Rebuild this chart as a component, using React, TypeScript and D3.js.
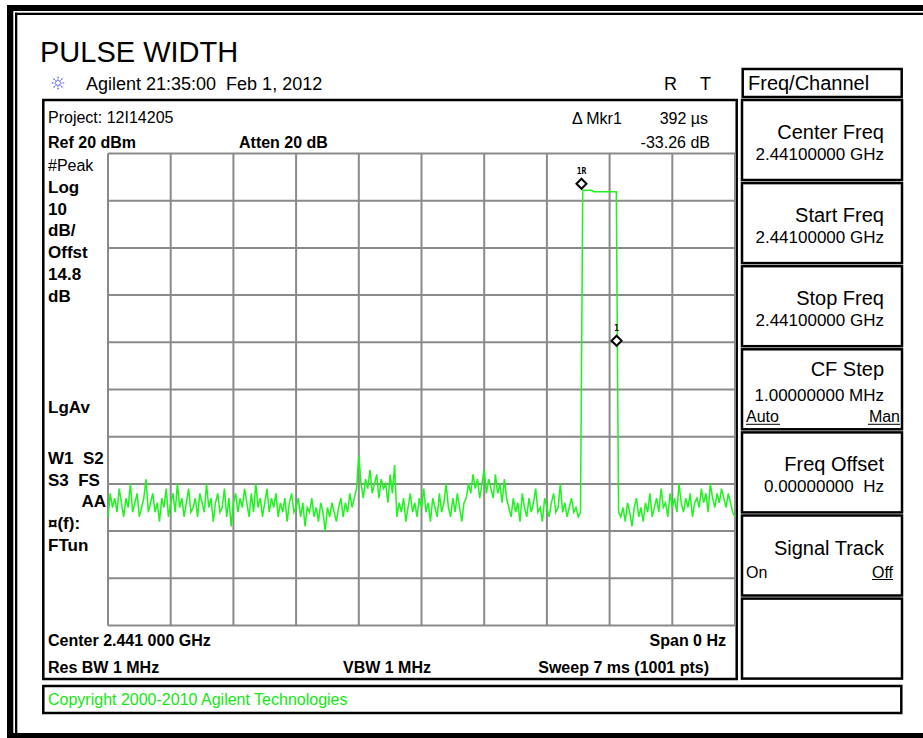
import React from 'react'
import * as d3 from 'd3'

// instrument settings
const sweepMs = 7
const refLevel = 20
const dbPerDiv = 10
const divisions = 10

// zero-span trace, dBm (left to right)
const noiseStart = [
  -57, -52, -55, -53, -56, -51, -54, -57, -53, -55, -50, -56, -54, -52, -57, -55, -53, -49, -56, -54,
  -52, -56, -54, -58, -53, -55, -51, -57, -54, -52, -56, -50, -55, -53, -57, -54, -51, -56, -55, -53,
  -57, -52, -54, -56, -50, -55, -53, -58, -54, -52, -56, -55, -51, -57, -53, -59, -54, -52, -56, -53,
  -55, -51, -54, -57, -52, -56, -50, -55, -53, -57, -54, -51, -56, -53, -55, -52, -57, -54, -56, -53,
  -58, -54, -52, -56, -55, -53, -57, -54, -59, -55, -56, -53, -57, -55, -58, -54, -56, -60, -55, -57,
  -54, -56, -58, -55, -53, -57, -54, -56, -52, -55, -53, -51
]
const spurA = [-44, -50, -53, -49, -51, -47, -52, -50, -48, -53, -49, -51, -50, -54, -48, -52, -46]
const noiseMid = [
  -57, -54, -56, -53, -58, -55, -52, -56, -54, -57, -53, -55, -51, -56, -54, -58,
  -53, -55, -57, -52, -56, -54, -50, -55, -57, -53, -56, -52, -55, -58, -54, -53
]
const spurB = [-50, -52, -48, -51, -49, -53, -50, -47, -52, -49, -51, -53, -48, -52, -50, -54, -49, -53]
const noiseLate = [
  -55, -57, -53, -56, -54, -58, -52, -55, -57, -53, -56, -54, -51, -56, -55, -58, -53,
  -55, -57, -54, -52, -56, -55, -50, -56, -54, -57, -55, -53, -56, -55, -57, -56
]
const pulseTop = [12.2, 12.2, 12.2, 12.2, 12.2, 11.9, 11.9, 11.9, 11.9, 11.9, 11.9, 11.9, 11.9, 11.9, 11.9, 11.9]
const noiseAfter = [
  -56, -57, -55, -58, -54, -56, -59, -55, -53, -57, -55, -58, -54, -56, -52, -57, -55, -53, -56, -51,
  -55, -54, -57, -52, -55, -53, -56, -50, -54, -56, -53, -55, -52, -57, -54, -53, -55, -51, -54, -52,
  -56, -50, -53, -55, -52, -54, -51, -53, -55, -52, -54, -56, -57
]

// markers: time in ms, level in dBm
const refMarker = { t: 5.286, level: 12.1, label: '1R' }
const deltaMarker = { t: 5.678, level: 12.1 - 33.26, label: '1' }

const leftLabelsTop = ['Log', '10', 'dB/', 'Offst', '14.8', 'dB']
const leftLabelsLow = ['W1  S2', 'S3  FS']
const leftLabelsTail = ['\u00a4(f):', 'FTun']

const softkeys = [
  { title: 'Center Freq', value: '2.44100000 GHz' },
  { title: 'Start Freq', value: '2.44100000 GHz' },
  { title: 'Stop Freq', value: '2.44100000 GHz' },
  { title: 'CF Step', value: '1.00000000 MHz', left: 'Auto', right: 'Man', under: 'both' },
  { title: 'Freq Offset', value: '0.00000000  Hz' },
  { title: 'Signal Track', left: 'On', right: 'Off', under: 'right' },
  { title: '' }
]

const FONT = '"Liberation Sans", Arial, sans-serif'

const App = () => {
  const gx0 = 108
  const gx1 = 735
  const gy0 = 153.5
  const gy1 = 625.5
  const lineGap = 21.7

  const trace = [...noiseStart, ...spurA, ...noiseMid, ...spurB, ...noiseLate, ...pulseTop, ...noiseAfter]
  const step = sweepMs / (trace.length - 1)

  const x = d3.scaleLinear().domain([0, sweepMs]).range([gx0, gx1])
  const y = d3.scaleLinear().domain([refLevel - dbPerDiv * divisions, refLevel]).range([gy1, gy0])

  const line = d3.line<number>()
    .x((d, i) => x(i * step))
    .y(d => y(d))

  const vLines = d3.range(divisions + 1).map(i => x((sweepMs / divisions) * i))
  const hLines = d3.range(divisions + 1).map(i => y(refLevel - dbPerDiv * i))

  const diamond = (cx: number, cy: number) => {
    const r = 5
    return `M${cx},${cy - r}L${cx + r},${cy}L${cx},${cy + r}L${cx - r},${cy}Z`
  }

  const logoRays = d3.range(8).map(i => (i * Math.PI) / 4)

  const keyTop = (i: number) => 100 + i * 83.1
  const keyX = 742
  const keyW = 160
  const keyH = 80

  return (
    <svg width={923} height={738} style={{ position: 'absolute', left: 0, top: 0, background: '#fff' }}
      fontFamily={FONT}>
      <rect x={0} y={0} width={923} height={738} fill="#fff" />

      {/* outer frame */}
      <rect x={7} y={5} width={930} height={6} fill="#000" />
      <rect x={7} y={5} width={6.3} height={733} fill="#000" />
      <rect x={7} y={733} width={930} height={6} fill="#000" />
      <rect x={15} y={12.7} width={920} height={2.3} fill="#000" />
      <rect x={15} y={12.7} width={2.3} height={722} fill="#000" />

      <text x={40} y={62} fontSize={29} fill="#000">PULSE WIDTH</text>

      {/* agilent logo */}
      <g transform="translate(58,83)" stroke="#2b3cff" strokeWidth={1.2}>
        {logoRays.map((a, i) => (
          <line key={i} x1={Math.cos(a) * 2} y1={Math.sin(a) * 2} x2={Math.cos(a) * 7.5} y2={Math.sin(a) * 7.5}
            strokeDasharray="1.5,1.2" />
        ))}
      </g>
      <text x={86} y={90} fontSize={18} style={{ whiteSpace: 'pre' }}>Agilent 21:35:00  Feb 1, 2012</text>
      <text x={664} y={90} fontSize={18}>R</text>
      <text x={700} y={90} fontSize={18}>T</text>

      <rect x={742.7} y={69} width={159} height={28} fill="none" stroke="#000" strokeWidth={2.5} />
      <text x={748} y={90} fontSize={20}>Freq/Channel</text>

      {/* main display */}
      <rect x={43.3} y={100} width={693.4} height={579} fill="none" stroke="#000" strokeWidth={2.5} />
      <text x={48} y={123} fontSize={16}>Project: 12I14205</text>
      <text x={48} y={148} fontSize={16} fontWeight="bold">Ref 20 dBm</text>
      <text x={239} y={148} fontSize={16} fontWeight="bold">Atten 20 dB</text>
      <text x={572} y={124} fontSize={16}>{'\u0394 Mkr1'}</text>
      <text x={708} y={124} fontSize={16} textAnchor="end">392 µs</text>
      <text x={710} y={148} fontSize={16} textAnchor="end">-33.26 dB</text>

      <text x={48} y={171} fontSize={16}>#Peak</text>
      {leftLabelsTop.map((t, i) => (
        <text key={t + i} x={48} y={193 + i * lineGap} fontSize={17} fontWeight="bold">{t}</text>
      ))}
      <text x={48} y={413} fontSize={17} fontWeight="bold">LgAv</text>
      {leftLabelsLow.map((t, i) => (
        <text key={t} x={48} y={464 + i * lineGap} fontSize={17} fontWeight="bold" style={{ whiteSpace: 'pre' }}>{t}</text>
      ))}
      <text x={106} y={464 + 2 * lineGap} fontSize={17} fontWeight="bold" textAnchor="end">AA</text>
      {leftLabelsTail.map((t, i) => (
        <text key={t} x={48} y={464 + (3 + i) * lineGap} fontSize={17} fontWeight="bold">{t}</text>
      ))}

      {/* graticule */}
      <g stroke="#8a8a8a" strokeWidth={2}>
        {vLines.map((v, i) => <line key={'v' + i} x1={v} x2={v} y1={gy0} y2={gy1} />)}
        {hLines.map((h, i) => <line key={'h' + i} x1={gx0} x2={gx1} y1={h} y2={h} />)}
      </g>

      {/* trace */}
      <path d={line(trace) || ''} fill="none" stroke="#1cf51c" strokeWidth={1.5} />

      {/* markers */}
      {[refMarker, deltaMarker].map((m, i) => {
        const mx = x(m.t)
        const my = y(m.level) - 7
        return (
          <g key={i}>
            <path d={diamond(mx, my)} fill="#fff" stroke="#000" strokeWidth={2} />
            <text x={mx} y={my - 10} fontSize={8} fontFamily='"DejaVu Sans Mono", monospace' fontWeight="bold"
              textAnchor="middle">{m.label}</text>
          </g>
        )
      })}

      <text x={48} y={646} fontSize={16} fontWeight="bold">Center 2.441 000 GHz</text>
      <text x={726} y={646} fontSize={16} fontWeight="bold" textAnchor="end">Span 0 Hz</text>
      <text x={48} y={673} fontSize={16} fontWeight="bold">Res BW 1 MHz</text>
      <text x={343} y={673} fontSize={16} fontWeight="bold">VBW 1 MHz</text>
      <text x={709} y={673} fontSize={16} fontWeight="bold" textAnchor="end">Sweep 7 ms (1001 pts)</text>

      {/* copyright line */}
      <rect x={43.3} y={686} width={858} height={27} fill="none" stroke="#000" strokeWidth={2.5} />
      <text x={48} y={705} fontSize={16} fill="#14e614">Copyright 2000-2010 Agilent Technologies</text>

      {/* softkeys */}
      {softkeys.map((k, i) => {
        const top = keyTop(i)
        const compact = !!(k.left && k.value)
        return (
          <g key={i}>
            <rect x={keyX} y={top} width={keyW} height={keyH} fill="none" stroke="#000" strokeWidth={2.5} />
            {k.title && (
              <text x={keyX + 142} y={top + (compact ? 27 : 39)} fontSize={20} textAnchor="end">{k.title}</text>
            )}
            {k.value && (
              <text x={keyX + 142} y={top + (compact ? 52 : 60)} fontSize={17} textAnchor="end"
                style={{ whiteSpace: 'pre' }}>{k.value}</text>
            )}
            {k.left && (
              <text x={keyX + 4} y={top + (compact ? 73 : 62)} fontSize={16}>{k.left}</text>
            )}
            {k.left && k.under === 'both' && (
              <line x1={keyX + 4} x2={keyX + 38} y1={top + 75} y2={top + 75} stroke="#000" strokeWidth={1} />
            )}
            {k.right && (
              <text x={keyX + (compact ? 158 : 151)} y={top + (compact ? 73 : 62)} fontSize={16}
                textAnchor="end">{k.right}</text>
            )}
            {k.right && (
              <line x1={keyX + (compact ? 126 : 130)} x2={keyX + (compact ? 158 : 151)}
                y1={top + (compact ? 75 : 64)} y2={top + (compact ? 75 : 64)} stroke="#000" strokeWidth={1} />
            )}
          </g>
        )
      })}
    </svg>
  )
}

export default App
